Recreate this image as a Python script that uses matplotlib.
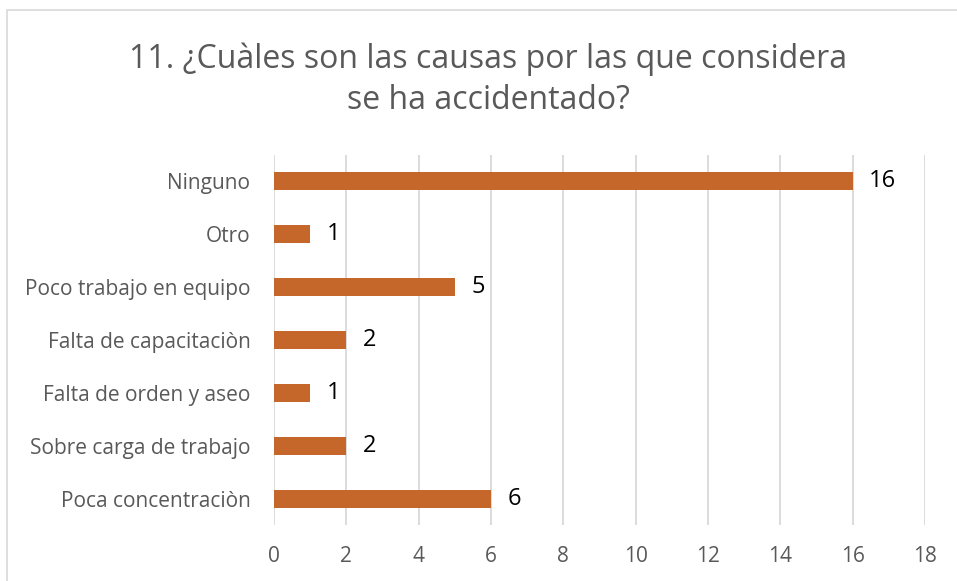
import matplotlib.pyplot as plt
from matplotlib.patches import Rectangle

categorias = ['Poca concentraciòn', 'Sobre carga de trabajo', 'Falta de orden y aseo',
              'Falta de capacitaciòn', 'Poco trabajo en equipo', 'Otro', 'Ninguno']
valores = [6, 2, 1, 2, 5, 1, 16]
ticks_x = [0, 2, 4, 6, 8, 10, 12, 14, 16, 18]

plt.rcParams['font.family'] = ['Open Sans', 'DejaVu Sans']

fig = plt.figure(figsize=(9.57, 5.81), dpi=100)
# marco del gráfico (se sale por la derecha y abajo)
fig.patches.append(Rectangle((7 / 957, -0.1), 1.2, 1 - 10 / 581 + 0.1, transform=fig.transFigure,
                             fill=False, edgecolor='#D9D9D9', linewidth=1.2))

ax = fig.add_axes([274 / 957, 1 - 525 / 581, (925 - 274) / 957, (525 - 155) / 581])
pos = range(len(categorias))
ax.barh(pos, valores, height=0.34, color='#C5662A', zorder=3)
for p, v in zip(pos, valores):
    ax.text(v + 0.45, p, str(v), va='center', ha='left', fontsize=17, color='black')

ax.set_xlim(0, 18)
ax.set_ylim(-0.5, len(categorias) - 0.5)
ax.set_xticks(ticks_x)
ax.set_yticks(list(pos))
ax.set_yticklabels(categorias)
ax.tick_params(axis='y', length=0, pad=17, labelsize=15, labelcolor='#595959')
ax.tick_params(axis='x', length=0, pad=15, labelsize=15, labelcolor='#595959')
ax.grid(axis='x', color='#D9D9D9', linewidth=1.3, zorder=0)
for s in ax.spines.values():
    s.set_visible(False)

fig.text(488 / 957, 1 - 80 / 581, '11. ¿Cuàles son las causas por las que considera\nse ha accidentado?',
         ha='center', va='center', fontsize=23, color='#595959', linespacing=1.32)

fig.savefig('out.png', dpi=100)
